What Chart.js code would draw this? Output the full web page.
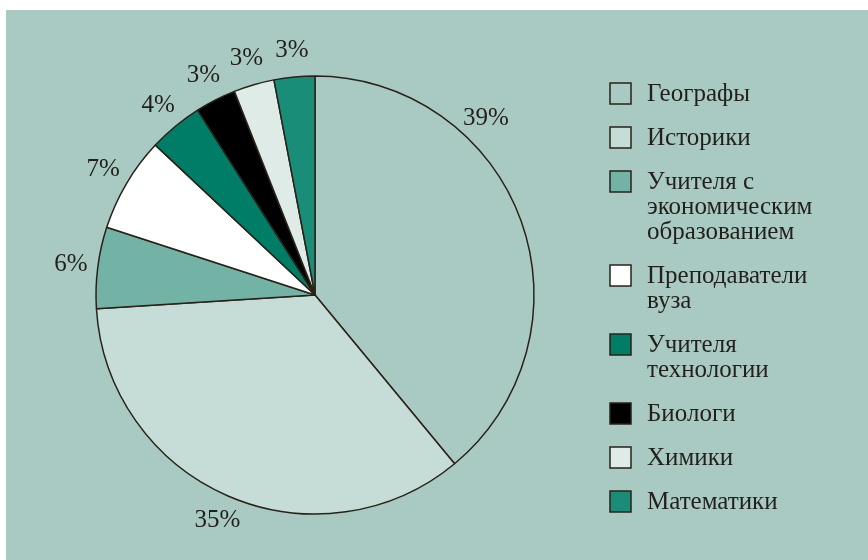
<!DOCTYPE html>
<html>
<head>
<meta charset="utf-8">
<script src="https://cdn.jsdelivr.net/npm/chart.js@4/dist/chart.umd.min.js"></script>
<style>
  html, body { margin: 0; padding: 0; background: #ffffff; }
  #wrap { width: 868px; height: 560px; }
</style>
</head>
<body>
<div id="wrap"><canvas id="c" width="868" height="560"></canvas></div>
<script>
// ---- DATA ----
const categories = ["Географы", "Историки", "Учителя с экономическим образованием", "Преподаватели вуза", "Учителя технологии", "Биологи", "Химики", "Математики"];
const legendLines = [["Географы"], ["Историки"], ["Учителя с", "экономическим", "образованием"], ["Преподаватели", "вуза"], ["Учителя", "технологии"], ["Биологи"], ["Химики"], ["Математики"]];
const shares = [39, 35, 6, 7, 4, 3, 3, 3];
const sliceColors = ["#a8cac2", "#c5ddd6", "#73b3a5", "#ffffff", "#007d66", "#000000", "#deebe7", "#1a8d79"];

const BG = "#a8cac2";
const INK = "#231f1c";
const EDGE = "#2a2218";
const FONT = "'Liberation Serif', 'Times New Roman', serif";

const backgroundPlugin = {
  id: 'bgPanel',
  beforeDraw(chart) {
    const ctx = chart.ctx;
    ctx.save();
    ctx.fillStyle = '#ffffff';
    ctx.fillRect(0, 0, chart.width, chart.height);
    ctx.fillStyle = BG;
    ctx.fillRect(6, 10, chart.width - 6, chart.height - 10);
    ctx.restore();
  }
};

const pctLabelPlugin = {
  id: 'pctLabels',
  afterDatasetsDraw(chart, args, opts) {
    const ctx = chart.ctx;
    const meta = chart.getDatasetMeta(0);
    const values = chart.data.datasets[0].data;
    ctx.save();
    ctx.font = opts.size + 'px ' + FONT;
    ctx.fillStyle = INK;
    ctx.textAlign = 'center';
    ctx.textBaseline = 'middle';
    meta.data.forEach((arc, i) => {
      const p = arc.getProps(['x', 'y', 'startAngle', 'endAngle', 'outerRadius'], true);
      let ang = (p.startAngle + p.endAngle) / 2;
      if (opts.angleOverride && opts.angleOverride[i] !== undefined) {
        ang = (opts.angleOverride[i] - 90) * Math.PI / 180;
      }
      const r = p.outerRadius + opts.offset;
      ctx.fillText(values[i] + '%', p.x + Math.cos(ang) * r, p.y + Math.sin(ang) * r);
    });
    ctx.restore();
  }
};

const legendPlugin = {
  id: 'sideLegend',
  afterDraw(chart, args, opts) {
    const ctx = chart.ctx;
    const colors = chart.data.datasets[0].backgroundColor;
    ctx.save();
    ctx.font = opts.size + 'px ' + FONT;
    ctx.textAlign = 'left';
    ctx.textBaseline = 'alphabetic';
    let top = opts.top;
    legendLines.forEach((lines, i) => {
      ctx.fillStyle = colors[i];
      ctx.fillRect(opts.boxX, top, opts.box, opts.box);
      ctx.strokeStyle = EDGE;
      ctx.lineWidth = 1.5;
      ctx.strokeRect(opts.boxX, top, opts.box, opts.box);
      ctx.fillStyle = INK;
      lines.forEach((ln, j) => {
        ctx.fillText(ln, opts.textX, top + opts.firstBaseline + j * opts.lineHeight);
      });
      top += lines.length * opts.lineHeight + opts.gap;
    });
    ctx.restore();
  }
};

new Chart(document.getElementById('c'), {
  type: 'pie',
  data: {
    labels: categories,
    datasets: [{
      data: shares,
      backgroundColor: sliceColors,
      borderColor: EDGE,
      borderWidth: 1.5
    }]
  },
  options: {
    responsive: false,
    devicePixelRatio: 1,
    animation: false,
    radius: 219,
    layout: { padding: { left: 0, right: 238, top: 30, bottom: 0 } },
    plugins: {
      legend: { display: false },
      tooltip: { enabled: false },
      pctLabels: { size: 25, offset: 27, angleOverride: { 0: 44 } },
      sideLegend: { size: 25, top: 83, boxX: 610, box: 21, textX: 647, firstBaseline: 18, lineHeight: 25, gap: 19 }
    }
  },
  plugins: [backgroundPlugin, pctLabelPlugin, legendPlugin]
});
</script>
</body>
</html>
